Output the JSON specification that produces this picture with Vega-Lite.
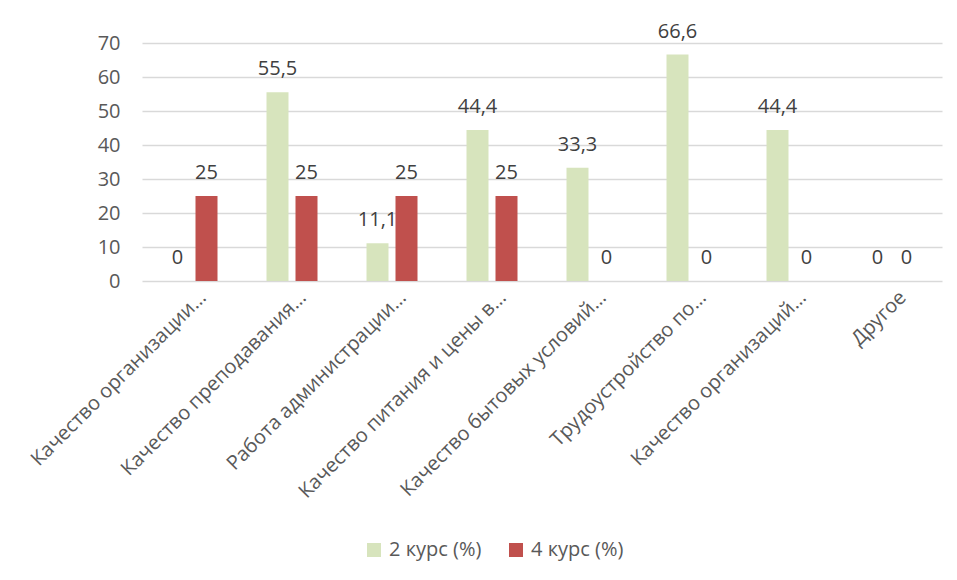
{
  "$schema": "https://vega.github.io/schema/vega-lite/v6.json",
  "width": 800,
  "height": 238,
  "autosize": "none",
  "padding": {"left": 142, "top": 43, "right": 15, "bottom": 299},
  "background": "#ffffff",
  "config": {
    "font": "Open Sans",
    "view": {"stroke": null},
    "locale": {
      "number": {"decimal": ",", "thousands": " ", "grouping": [3], "currency": ["", ""]}
    },
    "axis": {
      "labelFont": "Open Sans",
      "labelFontSize": 20,
      "labelColor": "#595959",
      "domain": false,
      "ticks": false,
      "title": null
    }
  },
  "data": {
    "values": [
      {"category": "Качество организации…", "series": "2 курс (%)", "value": 0},
      {"category": "Качество организации…", "series": "4 курс (%)", "value": 25},
      {"category": "Качество преподавания…", "series": "2 курс (%)", "value": 55.5},
      {"category": "Качество преподавания…", "series": "4 курс (%)", "value": 25},
      {"category": "Работа администрации…", "series": "2 курс (%)", "value": 11.1},
      {"category": "Работа администрации…", "series": "4 курс (%)", "value": 25},
      {"category": "Качество питания и цены в…", "series": "2 курс (%)", "value": 44.4},
      {"category": "Качество питания и цены в…", "series": "4 курс (%)", "value": 25},
      {"category": "Качество бытовых условий…", "series": "2 курс (%)", "value": 33.3},
      {"category": "Качество бытовых условий…", "series": "4 курс (%)", "value": 0},
      {"category": "Трудоустройство по…", "series": "2 курс (%)", "value": 66.6},
      {"category": "Трудоустройство по…", "series": "4 курс (%)", "value": 0},
      {"category": "Качество организаций…", "series": "2 курс (%)", "value": 44.4},
      {"category": "Качество организаций…", "series": "4 курс (%)", "value": 0},
      {"category": "Другое", "series": "2 курс (%)", "value": 0},
      {"category": "Другое", "series": "4 курс (%)", "value": 0}
    ]
  },
  "encoding": {
    "x": {
      "field": "category",
      "type": "nominal",
      "sort": null,
      "scale": {"paddingInner": 0.49, "paddingOuter": 0.245},
      "axis": {
        "labelAngle": -45,
        "labelAlign": "right",
        "labelBaseline": "middle",
        "labelPadding": 13,
        "labelOffset": 11,
        "labelLimit": 400,
        "grid": false
      }
    },
    "xOffset": {
      "field": "series",
      "type": "nominal",
      "sort": ["2 курс (%)", "4 курс (%)"],
      "scale": {"paddingInner": 0.2414, "paddingOuter": 0}
    },
    "y": {
      "field": "value",
      "type": "quantitative",
      "scale": {"domain": [0, 70], "nice": false},
      "axis": {
        "values": [0, 10, 20, 30, 40, 50, 60, 70],
        "labelPadding": 22,
        "grid": true,
        "gridColor": "#d9d9d9",
        "gridWidth": 1.5
      }
    }
  },
  "layer": [
    {
      "mark": {"type": "bar"},
      "encoding": {
        "color": {
          "field": "series",
          "type": "nominal",
          "scale": {
            "domain": ["2 курс (%)", "4 курс (%)"],
            "range": ["#D7E4BD", "#C0504D"]
          },
          "legend": {
            "title": null,
            "orient": "none",
            "direction": "horizontal",
            "legendX": 222,
            "legendY": 497,
            "symbolType": "square",
            "symbolSize": 196,
            "symbolStrokeWidth": 0,
            "labelFontSize": 20,
            "labelColor": "#595959",
            "labelFont": "Open Sans",
            "labelOffset": 5,
            "columnPadding": 24
          }
        }
      }
    },
    {
      "mark": {
        "type": "text",
        "baseline": "alphabetic",
        "dy": -17,
        "fontSize": 20,
        "color": "#404040"
      },
      "encoding": {
        "text": {"field": "value", "type": "quantitative", "format": "~g"}
      }
    }
  ]
}
